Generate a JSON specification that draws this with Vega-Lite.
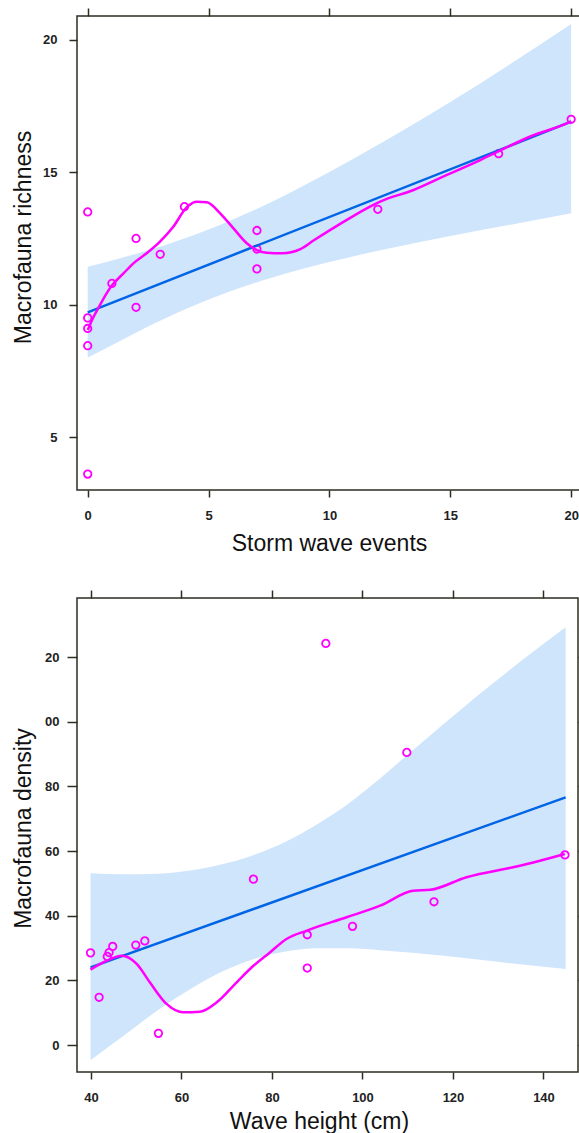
{
  "$schema": "https://vega.github.io/schema/vega-lite/v6.json",
  "background": "white",
  "padding": {"left": 11, "top": 6, "right": 0, "bottom": 0},
  "spacing": 32,
  "config": {
    "view": {"stroke": "#2d2d22", "strokeWidth": 1.5},
    "axis": {
      "domain": false, "grid": false,
      "tickColor": "#2d2d22", "tickWidth": 1.5,
      "labelFont": "Liberation Sans", "labelFontWeight": "bold", "labelFontSize": 13, "labelColor": "#222222",
      "titleFont": "Liberation Sans", "titleFontWeight": "normal", "titleFontSize": 23, "titleColor": "#111111"
    }
  },
  "datasets": {
    "top_pts": [
      {"events": 0, "richness": 13.5}, {"events": 2, "richness": 12.5}, {"events": 3, "richness": 11.9},
      {"events": 4, "richness": 13.7}, {"events": 7, "richness": 12.8}, {"events": 7, "richness": 12.1},
      {"events": 7, "richness": 11.35}, {"events": 1, "richness": 10.8}, {"events": 2, "richness": 9.9},
      {"events": 0, "richness": 9.5}, {"events": 0, "richness": 9.1}, {"events": 0, "richness": 8.45},
      {"events": 0, "richness": 3.6}, {"events": 12, "richness": 13.6}, {"events": 17, "richness": 15.7},
      {"events": 20, "richness": 17.0}
    ],
    "top_fit": [
      {"events": 0, "richness": 9.71}, {"events": 20, "richness": 16.91}
    ],
    "top_band": [
      {"events": 0, "lo": 8.0, "hi": 11.43}, {"events": 1, "lo": 8.47, "hi": 11.67},
      {"events": 2.5, "lo": 9.17, "hi": 12.05}, {"events": 5, "lo": 10.19, "hi": 12.84},
      {"events": 7.5, "lo": 10.99, "hi": 13.83}, {"events": 10, "lo": 11.61, "hi": 15.01},
      {"events": 12.5, "lo": 12.13, "hi": 16.29}, {"events": 15, "lo": 12.59, "hi": 17.65},
      {"events": 17.5, "lo": 13.02, "hi": 19.1}, {"events": 20, "lo": 13.45, "hi": 20.6}
    ],
    "top_loess": [
      {"events": 0, "richness": 9.04}, {"events": 0.25, "richness": 9.55}, {"events": 0.5, "richness": 9.97},
      {"events": 0.75, "richness": 10.38}, {"events": 1.0, "richness": 10.72}, {"events": 1.5, "richness": 11.2},
      {"events": 1.89, "richness": 11.56}, {"events": 2.44, "richness": 11.94}, {"events": 2.99, "richness": 12.38},
      {"events": 3.54, "richness": 12.94}, {"events": 4.1, "richness": 13.68}, {"events": 4.51, "richness": 13.89},
      {"events": 4.93, "richness": 13.87}, {"events": 5.48, "richness": 13.45}, {"events": 6.03, "richness": 12.88},
      {"events": 6.58, "richness": 12.32}, {"events": 7.0, "richness": 12.06}, {"events": 7.41, "richness": 11.96},
      {"events": 8.03, "richness": 11.94}, {"events": 8.8, "richness": 12.1}, {"events": 9.34, "richness": 12.42},
      {"events": 10.72, "richness": 13.2}, {"events": 11.68, "richness": 13.7}, {"events": 12.1, "richness": 13.89},
      {"events": 13.48, "richness": 14.33}, {"events": 14.86, "richness": 14.9}, {"events": 16.24, "richness": 15.46},
      {"events": 16.97, "richness": 15.78}, {"events": 18.31, "richness": 16.35}, {"events": 19.91, "richness": 16.88},
      {"events": 20, "richness": 16.92}
    ],
    "bot_pts": [
      {"height": 39.9, "density": 28.5}, {"height": 41.8, "density": 14.75}, {"height": 43.6, "density": 27.4},
      {"height": 44.0, "density": 28.6}, {"height": 44.8, "density": 30.5}, {"height": 49.9, "density": 30.9},
      {"height": 51.9, "density": 32.2}, {"height": 54.9, "density": 3.6}, {"height": 75.9, "density": 51.3},
      {"height": 87.8, "density": 34.1}, {"height": 87.8, "density": 23.8}, {"height": 97.8, "density": 36.7},
      {"height": 115.8, "density": 44.3}, {"height": 144.75, "density": 58.8}, {"height": 91.9, "density": 124.2},
      {"height": 109.8, "density": 90.5}
    ],
    "bot_fit": [
      {"height": 39.9, "density": 24.0}, {"height": 144.9, "density": 76.6}
    ],
    "bot_band": [
      {"height": 39.9, "lo": -4.7, "hi": 53.1}, {"height": 47, "lo": 2.6, "hi": 52.8},
      {"height": 55, "lo": 11.0, "hi": 53.0}, {"height": 62, "lo": 17.3, "hi": 54.0},
      {"height": 69, "lo": 22.7, "hi": 55.9}, {"height": 76, "lo": 26.6, "hi": 58.8},
      {"height": 83, "lo": 28.9, "hi": 62.9}, {"height": 90, "lo": 29.9, "hi": 68.3},
      {"height": 97, "lo": 29.9, "hi": 74.8}, {"height": 104, "lo": 29.3, "hi": 82.6},
      {"height": 111, "lo": 28.5, "hi": 91.0}, {"height": 118, "lo": 27.6, "hi": 99.4},
      {"height": 125, "lo": 26.5, "hi": 107.6}, {"height": 132, "lo": 25.4, "hi": 115.4},
      {"height": 138.5, "lo": 24.4, "hi": 122.5}, {"height": 144.9, "lo": 23.5, "hi": 129.2}
    ],
    "bot_loess": [
      {"height": 39.9, "density": 23.3}, {"height": 43.5, "density": 26.1}, {"height": 46.8, "density": 27.6},
      {"height": 50.1, "density": 25.1}, {"height": 53.0, "density": 19.4}, {"height": 56.7, "density": 12.7},
      {"height": 60.4, "density": 10.1}, {"height": 64.1, "density": 10.3}, {"height": 67.8, "density": 13.2},
      {"height": 72.2, "density": 19.4}, {"height": 75.9, "density": 24.5}, {"height": 79.6, "density": 28.7},
      {"height": 83.2, "density": 32.8}, {"height": 87.7, "density": 35.4}, {"height": 96.5, "density": 39.5},
      {"height": 103.9, "density": 43.1}, {"height": 111.2, "density": 47.7}, {"height": 115, "density": 48.0},
      {"height": 123, "density": 51.9}, {"height": 133.3, "density": 55.0}, {"height": 139.2, "density": 57.0},
      {"height": 144.7, "density": 59.1}
    ]
  },
  "vconcat": [
    {
      "width": 506, "height": 474,
      "resolve": {"axis": {"x": "independent", "y": "independent"}},
      "layer": [
        {
          "data": {"name": "top_band"},
          "mark": {"type": "area", "color": "#cfe5fc", "opacity": 1, "interpolate": "monotone"},
          "encoding": {
            "x": {"field": "events", "type": "quantitative", "scale": {"domain": [-0.443, 20.49], "nice": false, "zero": false},
              "axis": {"orient": "bottom", "values": [0, 5, 10, 15, 20], "tickSize": 7, "labelBaseline": "middle", "labelPadding": 18,
                "title": "Storm wave events", "titleX": 252, "titleY": 53, "titleBaseline": "middle"}},
            "y": {"field": "lo", "type": "quantitative", "scale": {"domain": [3.0, 20.9], "nice": false, "zero": false},
              "axis": {"orient": "left", "values": [5, 10, 15, 20], "tickSize": 8, "labelPadding": 12,
                "title": "Macrofauna richness", "titleAngle": -90, "titleX": -54, "titleY": 221, "titleBaseline": "middle"}},
            "y2": {"field": "hi"}
          }
        },
        {
          "data": {"name": "top_pts"},
          "mark": {"type": "point", "shape": "circle", "filled": false, "color": "#ff00ff", "size": 56, "strokeWidth": 1.8, "opacity": 1},
          "encoding": {
            "x": {"field": "events", "type": "quantitative", "axis": null},
            "y": {"field": "richness", "type": "quantitative", "axis": null}
          }
        },
        {
          "data": {"name": "top_fit"},
          "mark": {"type": "line", "color": "#0064e6", "strokeWidth": 2.5},
          "encoding": {
            "x": {"field": "events", "type": "quantitative",
              "axis": {"orient": "top", "values": [0, 5, 10, 15, 20], "tickSize": 8, "labels": false, "title": null}},
            "y": {"field": "richness", "type": "quantitative",
              "axis": {"orient": "right", "values": [5, 10, 15, 20], "tickSize": 8, "labels": false, "title": null}}
          }
        },
        {
          "data": {"name": "top_loess"},
          "mark": {"type": "line", "color": "#ff00ff", "strokeWidth": 2.5, "interpolate": "monotone"},
          "encoding": {
            "x": {"field": "events", "type": "quantitative", "axis": null},
            "y": {"field": "richness", "type": "quantitative", "axis": null}
          }
        }
      ]
    },
    {
      "width": 501, "height": 474,
      "resolve": {"axis": {"x": "independent", "y": "independent"}},
      "layer": [
        {
          "data": {"name": "bot_band"},
          "mark": {"type": "area", "color": "#cfe5fc", "opacity": 1, "interpolate": "monotone"},
          "encoding": {
            "x": {"field": "height", "type": "quantitative", "scale": {"domain": [36.91, 147.63], "nice": false, "zero": false},
              "axis": {"orient": "bottom", "values": [40, 60, 80, 100, 120, 140], "tickSize": 7, "labelBaseline": "middle", "labelPadding": 18,
                "title": "Wave height (cm)", "titleX": 242, "titleY": 49, "titleBaseline": "middle"}},
            "y": {"field": "lo", "type": "quantitative", "scale": {"domain": [-8.35, 138.26], "nice": false, "zero": false},
              "axis": {"orient": "left", "values": [0, 20, 40, 60, 80, 100, 120], "tickSize": 10, "labelPadding": 8,
                "labelExpr": "datum.value >= 100 ? substring(datum.label, 1) : datum.label",
                "title": "Macrofauna density", "titleAngle": -90, "titleX": -54, "titleY": 230, "titleBaseline": "middle"}},
            "y2": {"field": "hi"}
          }
        },
        {
          "data": {"name": "bot_pts"},
          "mark": {"type": "point", "shape": "circle", "filled": false, "color": "#ff00ff", "size": 56, "strokeWidth": 1.8, "opacity": 1},
          "encoding": {
            "x": {"field": "height", "type": "quantitative", "axis": null},
            "y": {"field": "density", "type": "quantitative", "axis": null}
          }
        },
        {
          "data": {"name": "bot_fit"},
          "mark": {"type": "line", "color": "#0064e6", "strokeWidth": 2.5},
          "encoding": {
            "x": {"field": "height", "type": "quantitative",
              "axis": {"orient": "top", "values": [40, 60, 80, 100, 120, 140], "tickSize": 8, "labels": false, "title": null}},
            "y": {"field": "density", "type": "quantitative",
              "axis": {"orient": "right", "values": [0, 20, 40, 60, 80, 100, 120], "tickSize": 8, "labels": false, "title": null}}
          }
        },
        {
          "data": {"name": "bot_loess"},
          "mark": {"type": "line", "color": "#ff00ff", "strokeWidth": 2.5, "interpolate": "monotone"},
          "encoding": {
            "x": {"field": "height", "type": "quantitative", "axis": null},
            "y": {"field": "density", "type": "quantitative", "axis": null}
          }
        }
      ]
    }
  ]
}
